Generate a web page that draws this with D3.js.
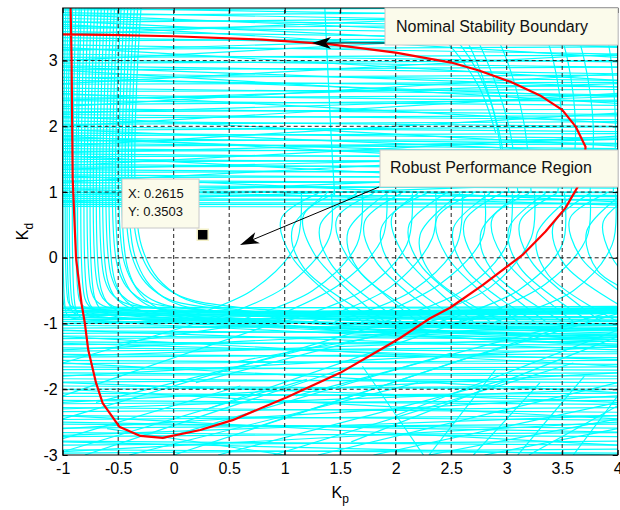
<!DOCTYPE html>
<html>
<head>
<meta charset="utf-8">
<script src="https://cdn.jsdelivr.net/npm/d3@7"></script>
<style>
body { margin: 0; background: #fff; }
svg { display: block; font-family: "Liberation Sans", Arial, sans-serif; }
</style>
</head>
<body>
<svg width="620" height="510"></svg>
<script>
// axis ticks
const xTicks = [-1, -0.5, 0, 0.5, 1, 1.5, 2, 2.5, 3, 3.5, 4];
const xTickLabels = ["-1", "-0.5", "0", "0.5", "1", "1.5", "2", "2.5", "3", "3.5", "4"];
const yTicks = [-3, -2, -1, 0, 1, 2, 3];
const yTickLabels = ["-3", "-2", "-1", "0", "1", "2", "3"];

// red curve [Kp, Kd]
const nominalBoundary = [
    [-0.93, 3.90], [-0.92, 3.00], [-0.91, 1.20], [-0.88, 0.00], [-0.83, -0.70], [-0.80, -1.00],
    [-0.77, -1.40], [-0.70, -1.90], [-0.64, -2.21], [-0.49, -2.57], [-0.30, -2.71], [-0.10, -2.74],
    [0.24, -2.62], [0.53, -2.47], [1.02, -2.12], [1.50, -1.75], [1.86, -1.40], [2.04, -1.22],
    [2.31, -0.92], [2.49, -0.76], [2.78, -0.42], [3.14, 0.04], [3.35, 0.40], [3.53, 0.76],
    [3.64, 1.08], [3.70, 1.40], [3.71, 1.69], [3.62, 2.00], [3.50, 2.25], [3.30, 2.47],
    [3.03, 2.68], [2.75, 2.85], [2.50, 2.97], [2.00, 3.12], [1.40, 3.25], [0.80, 3.32],
    [0.00, 3.37], [-0.60, 3.39], [-1.05, 3.40]
];

// cyan: near-horizontal lines, [Kd at Kp=-1, Kd at Kp=4]
const upperLines = [
    [3.80, 3.66], [3.77, 3.81], [3.73, 3.58], [3.69, 3.74], [3.64, 3.50], [3.58, 3.66], [3.52, 3.40], [3.49, 3.55], [3.44, 3.33],
    [3.35, 3.22], [3.30, 3.34], [3.24, 3.10], [3.17, 3.21], [3.10, 2.98], [3.05, 3.08], [3.01, 2.90],
    [2.96, 3.00], [2.92, 2.80], [2.86, 2.90], [2.80, 2.70], [2.74, 2.78], [2.70, 2.60], [2.64, 2.67], [2.58, 2.48],
    [2.53, 2.56], [2.48, 2.38], [2.43, 2.47], [2.39, 2.32], [2.33, 2.40], [2.27, 2.18], [2.22, 2.26], [2.18, 2.10],
    [2.13, 2.16], [2.08, 2.00], [2.03, 2.07], [1.99, 1.92], [1.94, 1.99], [1.90, 1.82], [1.86, 1.89], [1.82, 1.74],
    [1.78, 1.80], [1.74, 1.66], [1.70, 1.73], [1.66, 1.59], [1.62, 1.65], [1.58, 1.51], [1.54, 1.56], [1.50, 1.44],
    [1.46, 1.49], [1.42, 1.36], [1.38, 1.41], [1.34, 1.28], [1.30, 1.32], [1.26, 1.21], [1.22, 1.24], [1.18, 1.13],
    [1.14, 1.16], [1.10, 1.06], [1.06, 1.08], [1.02, 0.99], [0.99, 1.00], [0.96, 0.93], [0.93, 0.95], [0.90, 0.88],
    [0.87, 0.89], [0.84, 0.83], [0.81, 0.82], [0.78, 0.77]
];
const upperCross = [
    [3.60, 3.20], [3.40, 3.75], [3.20, 2.70], [3.00, 3.45], [2.85, 2.35], [2.65, 3.10], [2.50, 2.05], [2.30, 2.80],
    [2.15, 1.70], [2.00, 2.50], [1.85, 1.40], [1.70, 2.20], [1.55, 1.10], [1.40, 1.85], [1.25, 0.85], [1.15, 1.60],
    [0.95, 1.30], [2.90, 2.60], [2.40, 2.65], [1.95, 1.60], [1.60, 1.80], [1.05, 0.80], [3.55, 3.05], [3.70, 3.35],
    [0.85, 1.15], [3.15, 3.40], [2.75, 2.45], [2.20, 2.45], [1.80, 1.55], [1.35, 1.55]
];
const lowerLines = [
    [-0.75, -0.77], [-0.77, -0.74], [-0.80, -0.84], [-0.83, -0.79], [-0.86, -0.90], [-0.88, -0.85], [-0.91, -0.95], [-0.94, -0.91],
    [-0.97, -1.01], [-1.00, -0.97], [-1.03, -1.08], [-1.07, -1.03], [-1.11, -1.16], [-1.15, -1.10], [-1.19, -1.24], [-1.23, -1.18],
    [-1.28, -1.33], [-1.32, -1.27], [-1.37, -1.43], [-1.42, -1.36], [-1.47, -1.52], [-1.51, -1.46], [-1.56, -1.62], [-1.61, -1.56],
    [-1.66, -1.71], [-1.70, -1.66], [-1.75, -1.80], [-1.79, -1.75], [-1.84, -1.90], [-1.89, -1.84], [-1.95, -2.00], [-2.00, -1.95],
    [-2.06, -2.12], [-2.11, -2.06], [-2.17, -2.23], [-2.22, -2.17], [-2.28, -2.35], [-2.34, -2.28], [-2.40, -2.47], [-2.46, -2.40],
    [-2.53, -2.59], [-2.59, -2.53], [-2.66, -2.72], [-2.72, -2.66], [-2.79, -2.85], [-2.85, -2.79], [-2.92, -2.97], [-2.97, -2.91]
];
const lowerCross = [
    [-0.80, -1.25], [-1.00, -0.80], [-1.20, -1.65], [-1.40, -1.00], [-1.60, -2.05], [-1.80, -1.35], [-2.00, -2.45], [-2.20, -1.75],
    [-2.40, -2.85], [-2.60, -2.10], [-2.80, -3.00], [-2.95, -2.50], [-1.10, -1.40], [-1.50, -1.20], [-1.90, -2.20], [-2.30, -2.00],
    [-2.70, -2.40], [-0.90, -1.10], [-1.30, -1.55], [-2.50, -2.65]
];
// cyan: slanted segments [Kp0, Kd0, Kp1, Kd1]
const slantLines = [
    [-1.0, -2.95, 1.2, -1.85], [-1.0, -2.45, 1.8, -1.05], [-1.0, -2.10, 0.9, -1.00], [-1.0, -1.60, 0.3, -0.95],
    [-0.8, -3.0, 1.6, -1.65], [-0.4, -3.0, 2.2, -1.90], [-0.1, -2.75, 2.5, -1.45], [0.0, -3.0, 2.6, -1.55],
    [0.3, -2.3, 2.8, -0.85], [0.4, -3.0, 3.0, -1.85], [0.7, -2.6, 3.6, -1.00], [0.9, -3.0, 3.6, -1.60],
    [1.1, -2.1, 4.0, -0.80], [1.3, -3.0, 4.0, -1.90], [1.6, -2.8, 4.0, -1.20], [1.8, -3.0, 4.0, -2.20],
    [2.0, -2.4, 4.0, -1.10], [2.3, -3.0, 4.0, -2.45], [2.3, -3.0, 2.9, -1.70], [2.7, -3.0, 3.3, -1.90],
    [2.8, -3.0, 4.0, -2.60], [3.1, -3.0, 3.7, -1.80], [3.2, -3.0, 4.0, -2.25], [3.6, -3.0, 4.0, -2.10],
    [1.70, -1.65, 2.25, -3.0], [-0.6, -2.6, 1.0, -3.0], [0.2, -1.9, 2.8, -0.75], [-0.5, -1.3, 1.5, -0.80],
    [0.5, -1.6, 3.2, -0.78], [2.5, -1.6, 4.0, -0.85], [-1.0, -2.75, 0.6, -1.95], [-0.7, -2.2, 1.4, -1.30]
];
// cyan: verticals on the left that bend right [Kp, Kd of corner, bend radius, Kd at Kp=4]
const leftBends = [
    [-0.99, -0.80, 0.08, -0.95], [-0.97, -0.93, 0.10, -1.18], [-0.95, -0.77, 0.10, -0.82], [-0.93, -0.88, 0.12, -1.25],
    [-0.91, -0.84, 0.12, -0.90], [-0.88, -0.95, 0.15, -1.32], [-0.85, -0.79, 0.15, -0.76], [-0.83, -0.90, 0.18, -1.06],
    [-0.80, -0.82, 0.20, -0.80], [-0.77, -0.86, 0.22, -1.12], [-0.74, -0.78, 0.26, -0.83], [-0.71, -0.92, 0.30, -1.28],
    [-0.68, -0.80, 0.34, -0.77], [-0.65, -0.88, 0.38, -1.02], [-0.62, -0.76, 0.42, -0.80], [-0.59, -0.84, 0.46, -1.15],
    [-0.56, -0.79, 0.50, -0.75], [-0.53, -0.90, 0.55, -1.22], [-0.50, -0.77, 0.60, -0.82], [-0.47, -0.86, 0.65, -1.08],
    [-0.44, -0.80, 0.70, -0.78], [-0.41, -0.93, 0.75, -1.35], [-0.38, -0.78, 0.82, -0.84], [-0.35, -0.85, 0.88, -1.00],
    [-0.32, -0.76, 0.94, -0.79], [-0.29, -0.82, 1.00, -1.10]
];
// cyan: "(" shaped arcs in the middle band
const openArcs = [
    [[1.30, 0.98], [0.97, 0.60], [1.07, 0.00], [1.70, -0.97]],
    [[1.38, 0.98], [1.07, 0.45], [1.17, -0.15], [1.85, -0.97]],
    [[1.45, 0.98], [1.17, 0.65], [1.27, 0.05], [1.90, -0.97]],
    [[1.65, 0.98], [1.32, 0.50], [1.42, -0.10], [2.05, -0.97]],
    [[1.80, 0.98], [1.47, 0.60], [1.57, 0.00], [2.20, -0.97]],
    [[1.92, 0.98], [1.57, 0.40], [1.67, -0.20], [2.30, -0.97]],
    [[2.05, 0.98], [1.72, 0.55], [1.82, -0.05], [2.45, -0.97]],
    [[2.20, 0.98], [1.87, 0.45], [1.97, -0.15], [2.60, -0.97]],
    [[2.28, 0.98], [1.97, 0.65], [2.07, 0.05], [2.70, -0.97]],
    [[2.45, 0.98], [2.12, 0.50], [2.22, -0.10], [2.85, -0.97]],
    [[2.58, 0.98], [2.22, 0.35], [2.32, -0.25], [2.95, -0.97]],
    [[2.70, 0.98], [2.37, 0.60], [2.47, 0.00], [3.10, -0.97]],
    [[2.85, 0.98], [2.52, 0.45], [2.62, -0.15], [3.25, -0.97]],
    [[2.95, 0.98], [2.62, 0.55], [2.72, -0.05], [3.35, -0.97]],
    [[3.12, 0.98], [2.77, 0.40], [2.87, -0.20], [3.50, -0.97]],
    [[3.20, 0.98], [2.87, 0.60], [2.97, 0.00], [3.60, -0.97]],
    [[3.35, 0.98], [3.02, 0.45], [3.12, -0.15], [3.75, -0.97]],
    [[3.45, 0.98], [3.12, 0.55], [3.22, -0.05], [3.85, -0.97]],
    [[3.62, 0.98], [3.27, 0.35], [3.37, -0.25], [4.00, -0.97]],
    [[3.75, 0.98], [3.42, 0.50], [3.52, -0.10], [4.10, -0.80]],
    [[3.90, 0.98], [3.57, 0.60], [3.67, 0.00], [4.10, -0.60]],
    [[4.05, 0.98], [3.72, 0.40], [3.82, -0.20], [4.10, -0.50]],
    [[4.15, 0.98], [3.87, 0.55], [3.95, 0.00], [4.10, -0.30]]
];
// cyan: curves rising from the lower band into the middle band
const risingArcs = [
    [[0.00, -0.97], [0.70, -0.50], [1.10, 0.20], [1.15, 0.98]],
    [[0.30, -0.97], [1.00, -0.45], [1.40, 0.30], [1.42, 0.98]],
    [[0.55, -0.97], [1.25, -0.50], [1.65, 0.20], [1.70, 0.98]],
    [[0.80, -0.97], [1.50, -0.40], [1.88, 0.30], [1.92, 0.98]],
    [[1.00, -0.97], [1.70, -0.50], [2.10, 0.20], [2.15, 0.98]],
    [[1.25, -0.97], [1.95, -0.45], [2.33, 0.30], [2.36, 0.98]],
    [[1.45, -0.97], [2.15, -0.50], [2.55, 0.20], [2.60, 0.98]],
    [[1.70, -0.97], [2.40, -0.40], [2.78, 0.30], [2.80, 0.98]],
    [[1.90, -0.97], [2.60, -0.50], [3.00, 0.20], [3.05, 0.98]],
    [[2.15, -0.97], [2.85, -0.45], [3.22, 0.30], [3.25, 0.98]],
    [[2.40, -0.97], [3.10, -0.50], [3.50, 0.20], [3.52, 0.98]],
    [[2.65, -0.97], [3.35, -0.40], [3.72, 0.30], [3.75, 0.98]],
    [[2.90, -0.97], [3.60, -0.50], [3.95, 0.20], [3.98, 0.98]]
];
// cyan: steep curves in the upper band
const steepCurves = [
    [[1.36, 3.85], [1.39, 2.80], [1.42, 1.80], [1.45, 0.95]],
    [[2.05, 3.85], [2.45, 3.30], [2.75, 2.60], [2.90, 1.90]],
    [[2.20, 3.85], [2.60, 3.20], [2.85, 2.40], [2.95, 1.60]],
    [[2.45, 3.85], [2.70, 3.10], [2.92, 2.00], [3.02, 1.00]],
    [[2.58, 3.85], [2.82, 3.00], [3.02, 2.00], [3.10, 1.00]],
    [[2.75, 3.85], [2.98, 3.10], [3.15, 2.10], [3.22, 1.00]],
    [[3.25, 3.85], [3.42, 3.00], [3.50, 2.00], [3.46, 1.00]],
    [[3.40, 3.85], [3.55, 3.00], [3.62, 2.00], [3.58, 1.00]],
    [[3.55, 3.85], [3.70, 3.00], [3.78, 2.00], [3.75, 1.00]],
    [[3.85, 3.85], [3.94, 3.00], [3.98, 2.00], [3.96, 1.00]]
];

const tipPoint = [0.2615, 0.3503];
const tipLines = ["X: 0.2615", "Y: 0.3503"];

const svg = d3.select("svg");
const font = '"Liberation Sans", Arial, sans-serif';

const x = d3.scaleLinear().domain([-1, 4]).range([62.7, 617.7]);
const y = d3.scaleLinear().domain([-3, 3.8]).range([455, 8]);
const [x0, x1] = x.range();
const [y0, y1] = y.range();

svg.append("defs").append("clipPath").attr("id", "plot")
    .append("rect")
    .attr("x", x0).attr("y", y1)
    .attr("width", x1 - x0).attr("height", y0 - y1);

const curve = d3.line()
    .x(d => x(d[0]))
    .y(d => y(d[1]))
    .curve(d3.curveCatmullRom);

const bendPoints = ([a, b, r, bEnd]) => [
    [a, 3.9], [a, b + r], [a + 0.29 * r, b + 0.29 * r], [a + r, b], [4.1, bEnd]
];

const cyan = svg.append("g")
    .attr("clip-path", "url(#plot)")
    .attr("fill", "none")
    .attr("stroke", "#00ffff")
    .attr("stroke-width", 1.2);

cyan.selectAll(".hl")
    .data(upperLines.concat(upperCross, lowerLines, lowerCross))
    .join("line")
        .attr("class", "hl")
        .attr("x1", x(-1)).attr("x2", x(4))
        .attr("y1", d => y(d[0])).attr("y2", d => y(d[1]));

cyan.selectAll(".sl")
    .data(slantLines)
    .join("line")
        .attr("class", "sl")
        .attr("x1", d => x(d[0])).attr("y1", d => y(d[1]))
        .attr("x2", d => x(d[2])).attr("y2", d => y(d[3]));

cyan.selectAll(".bend")
    .data(leftBends)
    .join("path")
        .attr("class", "bend")
        .attr("d", d => curve(bendPoints(d)));

cyan.selectAll(".arc")
    .data(openArcs.concat(risingArcs, steepCurves))
    .join("path")
        .attr("class", "arc")
        .attr("d", curve);

// dashed grid
const grid = svg.append("g")
    .attr("stroke", "#222")
    .attr("stroke-width", 1)
    .attr("stroke-dasharray", "4,3");
grid.selectAll(".gx")
    .data(xTicks.slice(1, -1))
    .join("line")
        .attr("x1", d => x(d)).attr("x2", d => x(d))
        .attr("y1", y0).attr("y2", y1);
grid.selectAll(".gy")
    .data(yTicks.slice(1))
    .join("line")
        .attr("y1", d => y(d)).attr("y2", d => y(d))
        .attr("x1", x0).attr("x2", x1);

svg.append("path")
    .datum(nominalBoundary)
    .attr("clip-path", "url(#plot)")
    .attr("fill", "none")
    .attr("stroke", "#ff0000")
    .attr("stroke-width", 2.2)
    .attr("stroke-linejoin", "round")
    .attr("d", d3.line().x(d => x(d[0])).y(d => y(d[1])));

// axes
svg.append("g")
    .attr("transform", `translate(0,${y0})`)
    .call(d3.axisBottom(x).tickValues(xTicks).tickFormat((d, i) => xTickLabels[i])
        .tickSizeInner(-5).tickSizeOuter(0).tickPadding(8));
svg.append("g")
    .attr("transform", `translate(${x0},0)`)
    .call(d3.axisLeft(y).tickValues(yTicks).tickFormat((d, i) => yTickLabels[i])
        .tickSizeInner(-5).tickSizeOuter(0).tickPadding(5));
svg.append("g")
    .attr("transform", `translate(0,${y1})`)
    .call(d3.axisTop(x).tickValues(xTicks).tickFormat("").tickSizeInner(-5).tickSizeOuter(0));
svg.append("g")
    .attr("transform", `translate(${x1},0)`)
    .call(d3.axisRight(y).tickValues(yTicks).tickFormat("").tickSizeInner(-5).tickSizeOuter(0));

svg.selectAll(".domain").remove();
svg.selectAll(".tick line").attr("stroke", "#000");
svg.selectAll(".tick text")
    .attr("fill", "#000")
    .style("font-size", "16px")
    .style("font-family", font);

svg.append("rect")
    .attr("x", x0).attr("y", y1)
    .attr("width", x1 - x0).attr("height", y0 - y1)
    .attr("fill", "none")
    .attr("stroke", "#000")
    .attr("stroke-width", 1);

// axis labels
const xl = svg.append("text")
    .attr("x", (x0 + x1) / 2).attr("y", 498)
    .attr("text-anchor", "middle")
    .style("font-size", "16px");
xl.append("tspan").text("K");
xl.append("tspan").attr("dy", 5).style("font-size", "12px").text("p");

const yl = svg.append("text")
    .attr("transform", `translate(28,${(y0 + y1) / 2}) rotate(-90)`)
    .attr("text-anchor", "middle")
    .style("font-size", "16px");
yl.append("tspan").text("K");
yl.append("tspan").attr("dy", 5).style("font-size", "12px").text("d");

// annotations
function arrowHead(tx, ty, fx, fy) {
    const ang = Math.atan2(ty - fy, tx - fx) * 180 / Math.PI;
    svg.append("path")
        .attr("transform", `translate(${tx},${ty}) rotate(${ang})`)
        .attr("d", "M0,0L-19,-6L-14,0L-19,6Z")
        .attr("fill", "#000");
}

function textBox(bx, by, bw, bh, label, tx, ty) {
    svg.append("rect")
        .attr("x", bx).attr("y", by).attr("width", bw).attr("height", bh)
        .attr("fill", "#fbfbeb").attr("stroke", "#c8c8c8");
    svg.append("text")
        .attr("x", tx).attr("y", ty)
        .style("font-size", "16px")
        .attr("fill", "#111")
        .text(label);
}

svg.append("line")
    .attr("x1", 385).attr("y1", 43).attr("x2", 326).attr("y2", 43)
    .attr("stroke", "#000").attr("stroke-width", 1);
arrowHead(312, 43, 385, 43);
textBox(385, 8, 233, 37, "Nominal Stability Boundary", 396, 32);

svg.append("line")
    .attr("x1", 379).attr("y1", 187).attr("x2", 252).attr("y2", 240)
    .attr("stroke", "#000").attr("stroke-width", 1);
arrowHead(240, 245, 379, 187);
textBox(380, 150, 238, 37, "Robust Performance Region", 390, 173);

// data tip
svg.append("rect")
    .attr("x", x(tipPoint[0]) - 5.5).attr("y", y(tipPoint[1]) - 5.5)
    .attr("width", 11).attr("height", 11)
    .attr("fill", "#000").attr("stroke", "#f3f0c8").attr("stroke-width", 1.5);
svg.append("rect")
    .attr("x", 122).attr("y", 179).attr("width", 77).attr("height", 49)
    .attr("fill", "#fbfbeb").attr("stroke", "#c8c8c8");
svg.selectAll(".tip")
    .data(tipLines)
    .join("text")
        .attr("x", 128)
        .attr("y", (d, i) => 198 + i * 18)
        .style("font-size", "13px")
        .attr("fill", "#111")
        .text(d => d);
</script>
</body>
</html>
